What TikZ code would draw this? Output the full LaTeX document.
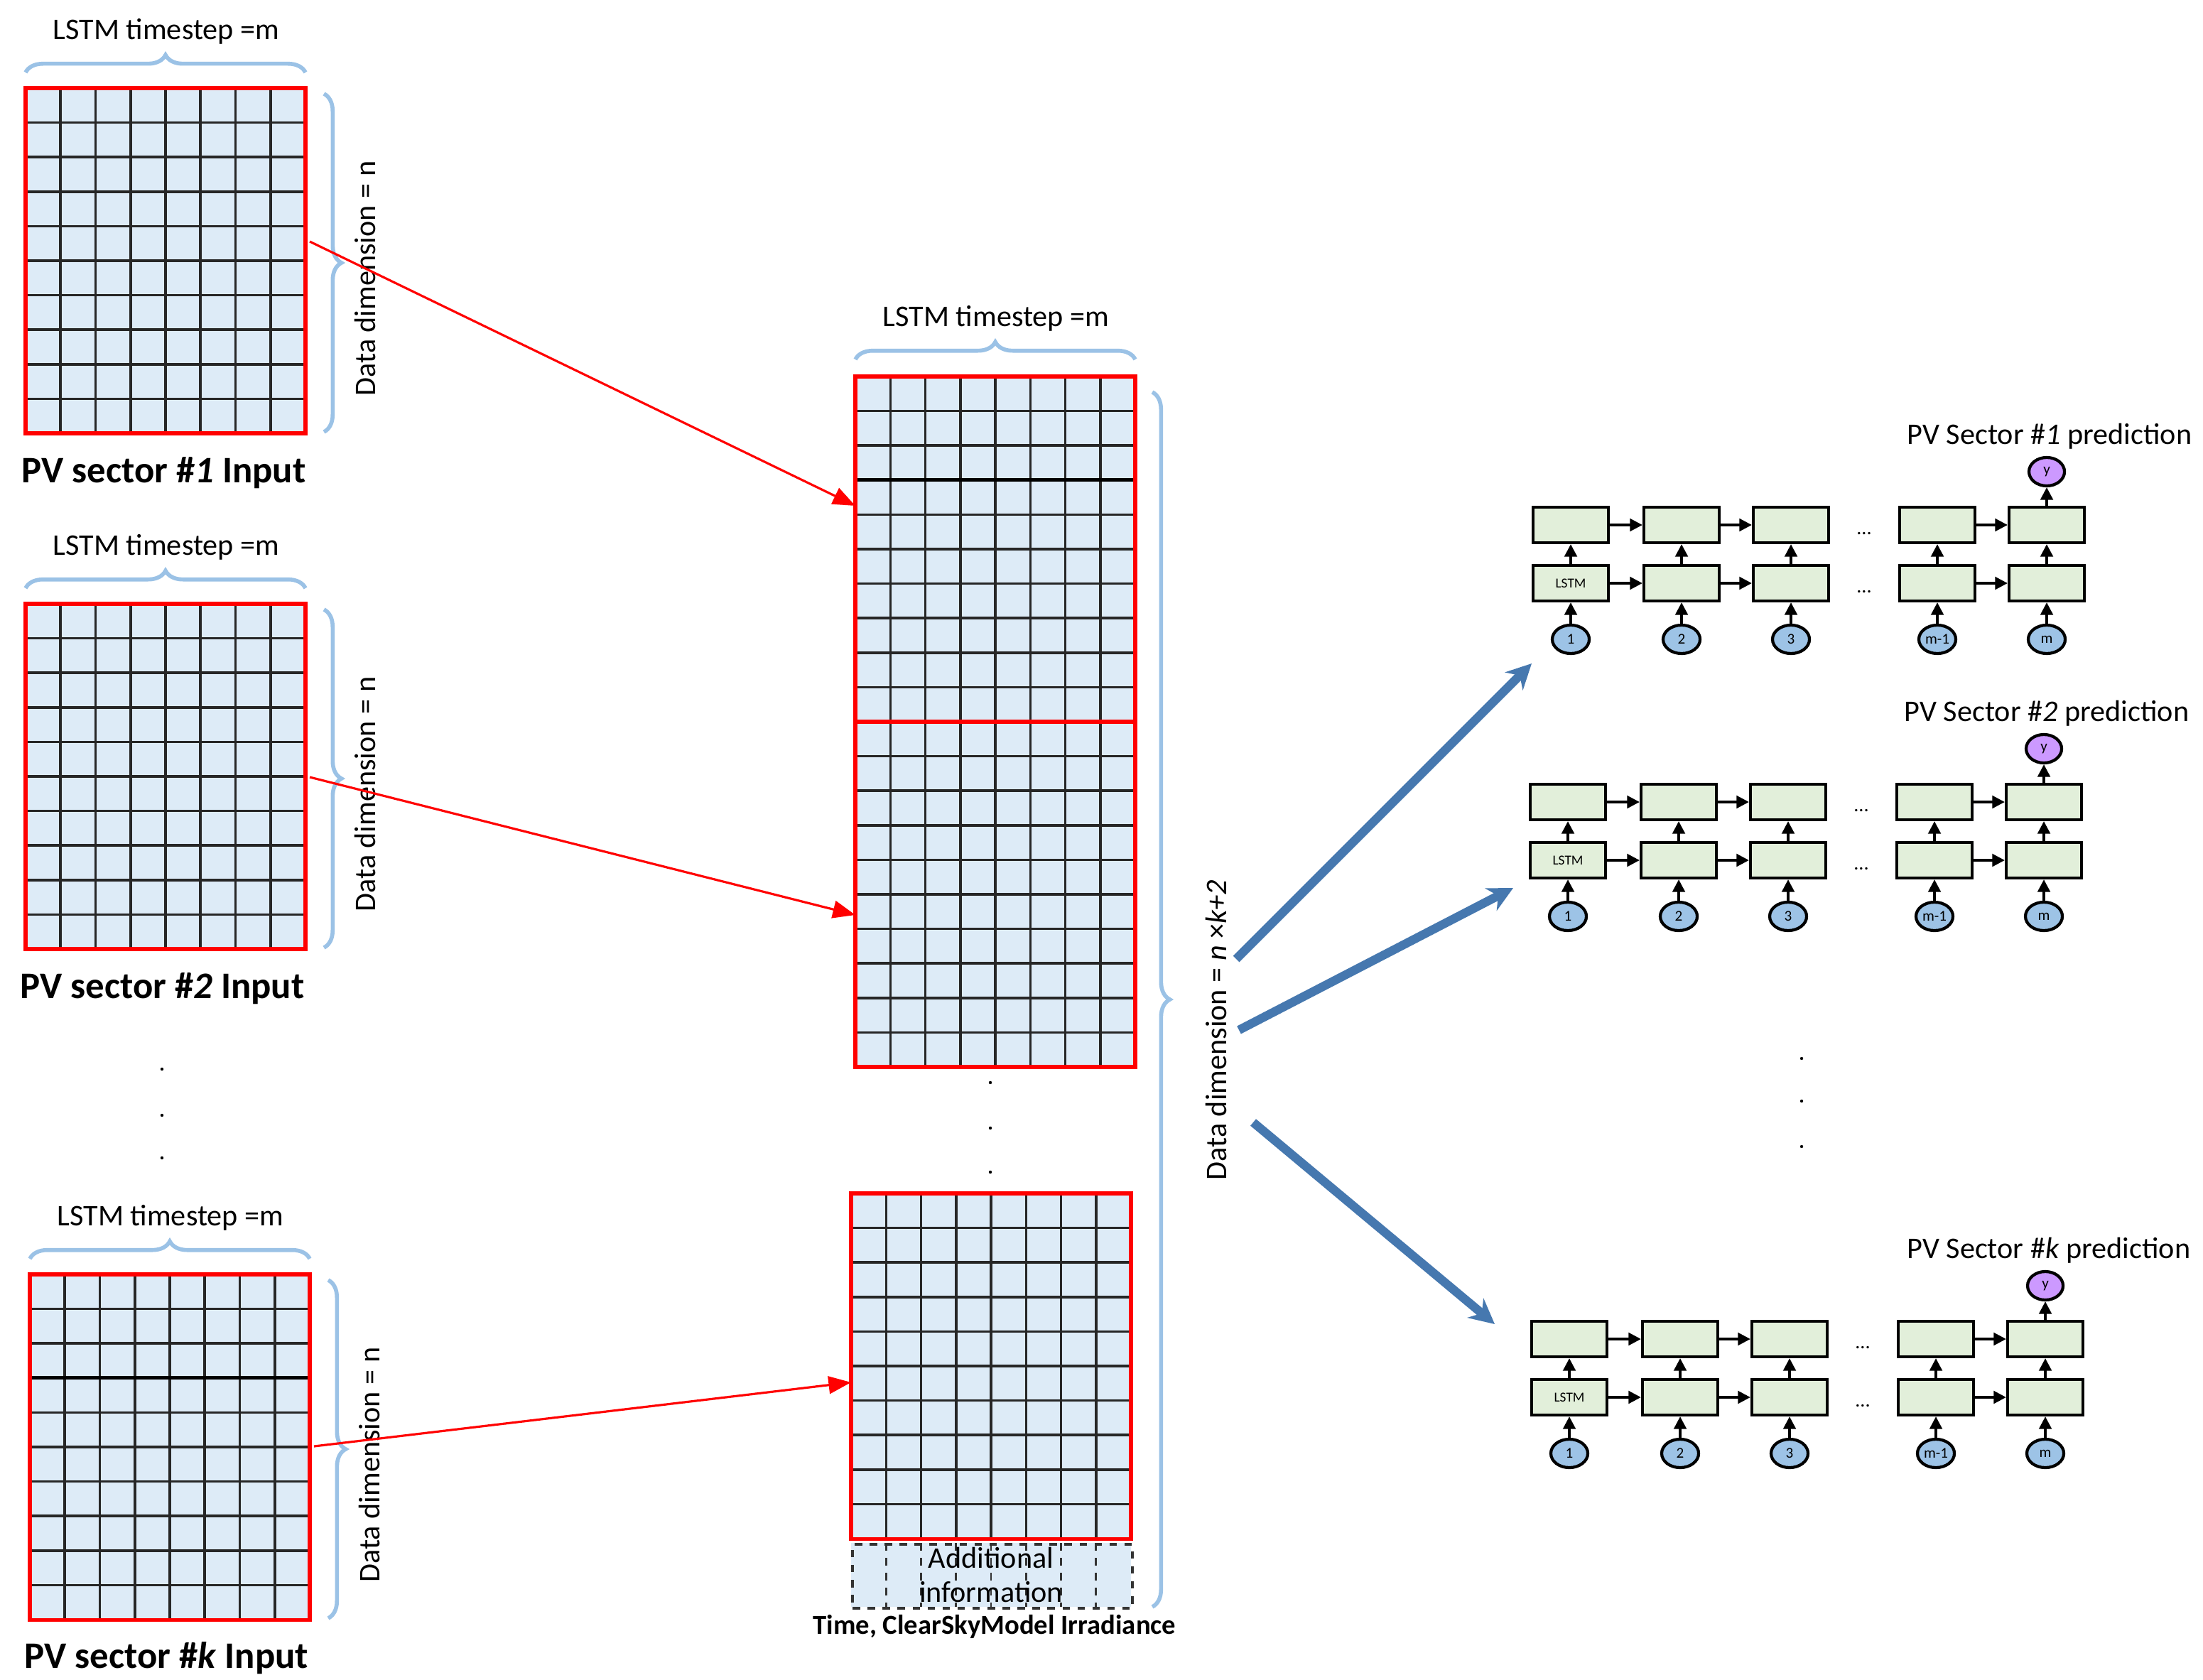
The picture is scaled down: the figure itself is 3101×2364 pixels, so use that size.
\documentclass[tikz,border=0pt]{standalone}
\usepackage{fontspec}
\setmainfont{Carlito}
\usetikzlibrary{arrows.meta,decorations.pathreplacing,shapes.geometric}
\definecolor{cellblue}{RGB}{221,235,247}
\definecolor{bracec}{RGB}{155,194,230}
\definecolor{boxgreen}{RGB}{226,239,218}
\definecolor{circblue}{RGB}{157,195,230}
\definecolor{violetc}{RGB}{204,153,255}
\definecolor{bigarrow}{RGB}{70,120,175}
\tikzset{
  brc/.style={draw=bracec,line width=1.6pt,decorate,decoration={brace,amplitude=7pt}},
  lab/.style={font=\fontsize{12}{14}\selectfont,inner sep=0pt},
  bold/.style={font=\fontsize{15}{18}\selectfont\bfseries,inner sep=0pt},
  redarr/.style={red,line width=0.9pt,-{Triangle[length=9pt,width=7pt]}},
  bluearr/.style={bigarrow,line width=3.5pt,-{Stealth[length=10pt,width=10pt]}},
  cell/.style={draw=black,line width=1.2pt,fill=boxgreen,minimum width=1.06cm,minimum height=0.5cm,inner sep=0pt,font=\fontsize{5.5}{6}\selectfont},
  inp/.style={ellipse,draw=black,line width=1.2pt,fill=circblue,minimum width=0.52cm,minimum height=0.4cm,inner sep=0pt,font=\fontsize{6}{7}\selectfont},
  outp/.style={ellipse,draw=black,line width=1.2pt,fill=violetc,minimum width=0.5cm,minimum height=0.4cm,inner sep=0pt,font=\fontsize{6}{7}\selectfont},
  la/.style={line width=1pt,-{Triangle[length=5pt,width=5pt]}},
}
\newcommand\pvgrid[4]{%
  \fill[cellblue] (#2,#3) rectangle ++(394,486);
  \foreach \i in {1,...,7}{\draw[black!85,line width=1pt] ({#2+\i*49.25},#3) -- ++(0,486);}
  \foreach \j in {1,...,9}{\draw[black!85,line width=1pt] (#2,{#3+\j*48.6}) -- ++(394,0);}
  \ifnum#4>0 \draw[black,line width=1.5pt] (#2,{#3+#4*48.6}) -- ++(394,0);\fi
  \node[draw=red,line width=1.6pt,minimum width=3.94cm,minimum height=4.86cm,inner sep=0pt,outer sep=0pt,anchor=north west] (#1) at (#2,#3) {};
}
\newcommand\lstmchain[4]{%
  \foreach \k/\dx/\t in {1/0/1,2/156/2,3/310/3,4/516/m-1,5/670/m}{%
    \node[cell] (#1t\k) at ({#2+\dx},#3) {};
    \node[cell] (#1b\k) at ({#2+\dx},{#3+82}) {\ifnum\k=1 LSTM\fi};
    \node[inp] (#1c\k) at ({#2+\dx},{#3+161}) {\t};
    \draw[la] (#1c\k) -- (#1b\k);
    \draw[la] (#1b\k) -- (#1t\k);
  }
  \foreach \a/\b in {1/2,2/3,4/5}{%
    \draw[la] (#1t\a) -- (#1t\b);
    \draw[la] (#1b\a) -- (#1b\b);
  }
  \node[outp] (#1y) at ({#2+670},{#3-75}) {y};
  \draw[la] (#1t5) -- (#1y);
  \node[font=\fontsize{8}{9}\selectfont] (#1d1) at ({#2+413},{#3+12}) {...};
  \node[font=\fontsize{8}{9}\selectfont] (#1d2) at ({#2+413},{#3+94}) {...};
  \node[lab,anchor=east] (#1lab) at ({#2+875},{#3-125}) {#4};
}
\begin{document}
\begin{tikzpicture}[x=0.01cm,y=-0.01cm]
\useasboundingbox (0,0) rectangle (3101,2364);
\fill[white] (0,0) rectangle (3101,2364);

\pvgrid{g1}{36}{124}{0}
\pvgrid{g2}{36}{850}{0}
\pvgrid{g3}{42}{1794}{3}
\foreach \n/\x/\y in {1/36/124,2/36/850,3/42/1794}{%
  \draw[brc] (\x,{\y-22}) -- ({\x+394},{\y-22});
  \node[lab] (tl\n) at ({\x+198},{\y-80}) {LSTM timestep =m};
  \draw[brc] ({\x+420},{\y+8}) -- ({\x+420},{\y+484});
  \node[lab,rotate=90] (dl\n) at ({\x+478},{\y+268}) {Data dimension = n};
}
\node[bold,anchor=west] (p1) at (30,666) {PV sector \#\textit{1} Input};
\node[bold,anchor=west] (p2) at (28,1392) {PV sector \#\textit{2} Input};
\node[bold,anchor=west] (p3) at (34,2334) {PV sector \#\textit{k} Input};
\foreach \yy in {1505,1570,1630}{\fill (228,\yy) circle (2.2);}

\pvgrid{m1}{1204}{530}{3}
\pvgrid{m2}{1204}{1016}{0}
\pvgrid{m3}{1198}{1680}{0}
\foreach \yy in {1524,1588,1650}{\fill (1394,\yy) circle (2.2);}
\draw[brc] (1204,506) -- (1598,506);
\node[lab] (tm) at (1402,448) {LSTM timestep =m};
\fill[cellblue] (1198,2172) rectangle (1592,2262);
\foreach \i in {1,...,7}{\draw[black!80,dashed,line width=0.8pt] ({1198+\i*49.25},2172) -- ++(0,90);}
\node[draw=black!80,dashed,line width=1.2pt,minimum width=3.94cm,minimum height=0.9cm,inner sep=0pt,anchor=north west] (add) at (1198,2172) {};
\node[align=center,font=\fontsize{12}{13.5}\selectfont,inner sep=0pt] (addt) at (1395,2217) {Additional\\information};
\node[font=\fontsize{11}{13}\selectfont\bfseries] (csm) at (1400,2290) {Time, ClearSkyModel Irradiance};
\draw[brc] (1622,552) -- (1622,2262);
\node[lab,rotate=90] (dbig) at (1712,1450) {Data dimension = \textit{n} ×\textit{k+2}};

\coordinate (r1) at (1204,712);
\coordinate (r2) at (1204,1288);
\coordinate (r3) at (1198,1946);
\draw[redarr] (436,340) -- (r1);
\draw[redarr] (436,1094) -- (r2);
\draw[redarr] (442,2036) -- (r3);

\lstmchain{a}{2211}{739}{PV Sector \#\textit{1} prediction}
\lstmchain{b}{2207}{1129}{PV Sector \#\textit{2} prediction}
\lstmchain{c}{2209}{1885}{PV Sector \#\textit{k} prediction}
\foreach \yy in {1490,1550,1614}{\fill (2536,\yy) circle (2.2);}

\coordinate (e1) at (2156,934);
\coordinate (e2) at (2130,1250);
\coordinate (e3) at (2104,1864);
\draw[bluearr] (1740,1350) -- (e1);
\draw[bluearr] (1744,1450) -- (e2);
\draw[bluearr] (1764,1580) -- (e3);
\end{tikzpicture}
\end{document}
